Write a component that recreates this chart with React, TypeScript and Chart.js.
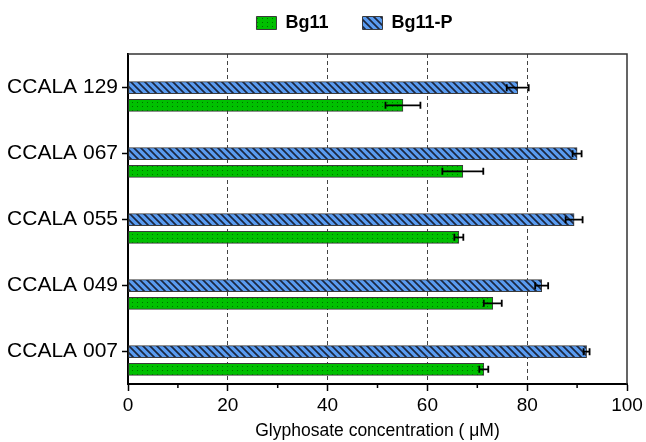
import React, { useEffect, useRef } from 'react';
import { Chart, registerables } from 'chart.js';

Chart.register(...registerables);

// ---- data ----
const strains = ['CCALA 129', 'CCALA 067', 'CCALA 055', 'CCALA 049', 'CCALA 007'];
const seriesNames = ['Bg11', 'Bg11-P'];
const bg11 = [55.1, 67.1, 66.3, 73.1, 71.3];
const bg11Err = [3.5, 4.1, 0.9, 1.8, 0.9];
const bg11P = [78.1, 90.0, 89.4, 82.9, 91.9];
const bg11PErr = [2.2, 0.9, 1.7, 1.3, 0.6];
const xMajorTicks = [0, 20, 40, 60, 80, 100];
const xMinorTicks = [10, 30, 50, 70, 90];
const xTitle = 'Glyphosate concentration ( μM)';

// ---- styling constants ----
const FONT = 'Liberation Sans';
const ROW_OFFSET = 0.268; // second bar of each pair sits below the tick
const LEGEND_SHIFT = 41;
const BLUE = '#5a9cf0';
const STRIPE = '#1b2740';
const GREEN = '#00c000';
const DOT = '#006e00';
const EDGE = '#3a3a3a';

function makeStripePattern(ctx: CanvasRenderingContext2D) {
  const c = document.createElement('canvas');
  const s = 7;
  c.width = s;
  c.height = s;
  const g = c.getContext('2d')!;
  g.fillStyle = BLUE;
  g.fillRect(0, 0, s, s);
  g.strokeStyle = STRIPE;
  g.lineWidth = 1.7;
  g.beginPath();
  for (let k = -1; k <= 1; k++) {
    g.moveTo(-2, -2 + s * k);
    g.lineTo(s + 2, s + 2 + s * k);
  }
  g.stroke();
  return ctx.createPattern(c, 'repeat')!;
}

function makeDotPattern(ctx: CanvasRenderingContext2D) {
  const c = document.createElement('canvas');
  c.width = 5;
  c.height = 4;
  const g = c.getContext('2d')!;
  g.fillStyle = GREEN;
  g.fillRect(0, 0, 5, 4);
  g.fillStyle = DOT;
  g.fillRect(2, 2, 1, 1);
  return ctx.createPattern(c, 'repeat')!;
}

const errorBarPlugin = {
  id: 'errorBars',
  afterDatasetsDraw(chart: any) {
    const ctx = chart.ctx;
    const xs = chart.scales.x;
    chart.data.datasets.forEach((ds: any, di: number) => {
      const meta = chart.getDatasetMeta(di);
      meta.data.forEach((el: any, i: number) => {
        const v = ds.data[i].x;
        const e = ds.errors[i];
        const x1 = xs.getPixelForValue(v - e);
        const x2 = xs.getPixelForValue(v + e);
        const y = el.y;
        ctx.save();
        ctx.strokeStyle = '#000';
        ctx.lineWidth = 1.8;
        ctx.beginPath();
        ctx.moveTo(x1, y);
        ctx.lineTo(x2, y);
        ctx.moveTo(x1, y - 3.5);
        ctx.lineTo(x1, y + 3.5);
        ctx.moveTo(x2, y - 3.5);
        ctx.lineTo(x2, y + 3.5);
        ctx.stroke();
        ctx.restore();
      });
    });
  },
};

const framePlugin = {
  id: 'frameAndMinor',
  afterLayout(chart: any) {
    if (chart.legend) {
      chart.legend.left += LEGEND_SHIFT;
      chart.legend.right += LEGEND_SHIFT;
    }
  },
  afterDraw(chart: any) {
    const ctx = chart.ctx;
    const { left, right, top, bottom } = chart.chartArea;
    const xs = chart.scales.x;
    ctx.save();
    ctx.strokeStyle = '#333';
    ctx.lineWidth = 1.5;
    ctx.beginPath();
    ctx.moveTo(left, top);
    ctx.lineTo(right, top);
    ctx.lineTo(right, bottom);
    ctx.stroke();
    ctx.strokeStyle = '#000';
    ctx.lineWidth = 1.5;
    ctx.beginPath();
    xMinorTicks.forEach((v) => {
      const x = xs.getPixelForValue(v);
      ctx.moveTo(x, bottom);
      ctx.lineTo(x, bottom + 4);
    });
    ctx.stroke();
    ctx.restore();
  },
};

export default function App() {
  const ref = useRef<HTMLCanvasElement>(null);

  useEffect(() => {
    const canvas = ref.current!;
    const ctx = canvas.getContext('2d')!;
    Chart.defaults.font.family = FONT;
    Chart.defaults.color = '#000';
    const stripes = makeStripePattern(ctx);
    const dots = makeDotPattern(ctx);

    const barCommon = {
      borderColor: EDGE,
      borderWidth: 1,
      borderSkipped: false,
      grouped: false,
      maxBarThickness: 12,
      categoryPercentage: 1,
      barPercentage: 1,
    };

    const chart = new Chart(ctx, {
      type: 'bar',
      data: {
        datasets: [
          {
            label: seriesNames[0],
            data: bg11.map((v, i) => ({ x: v, y: i + ROW_OFFSET })),
            errors: bg11Err,
            backgroundColor: dots,
            ...barCommon,
          } as any,
          {
            label: seriesNames[1],
            data: bg11P.map((v, i) => ({ x: v, y: i })),
            errors: bg11PErr,
            backgroundColor: stripes,
            ...barCommon,
          } as any,
        ],
      },
      options: {
        indexAxis: 'y',
        responsive: false,
        animation: false,
        layout: { padding: { left: 0, right: 19, top: -20, bottom: 0 } },
        plugins: {
          legend: {
            position: 'top',
            labels: {
              boxWidth: 20,
              boxHeight: 13,
              padding: 34,
              color: '#000',
              font: { family: FONT, size: 18, weight: 'bold' },
            },
          },
          title: {
            display: true,
            text: '',
            weight: 500,
            padding: 0,
            font: { size: 10, lineHeight: 1.2 },
          } as any,
          tooltip: { enabled: false },
        },
        scales: {
          x: {
            type: 'linear',
            min: 0,
            max: 100,
            afterBuildTicks: (s: any) => {
              s.ticks = xMajorTicks.map((v) => ({ value: v }));
            },
            afterFit: (s: any) => {
              s.height = 58;
            },
            ticks: {
              autoSkip: false,
              padding: 3,
              color: '#000',
              font: { family: FONT, size: 19 },
            },
            grid: {
              color: (c: any) =>
                c.tick && [20, 40, 60, 80].includes(c.tick.value) ? '#444' : 'rgba(0,0,0,0)',
              lineWidth: 1,
              tickColor: '#000',
              tickWidth: 1.5,
              tickLength: 7,
            },
            border: { display: true, color: '#000', width: 2, dash: [4, 3] },
            title: {
              display: true,
              text: xTitle,
              color: '#000',
              font: { family: FONT, size: 17.5 },
              padding: { top: 4, bottom: 0 },
            },
          },
          y: {
            type: 'linear',
            reverse: true,
            offset: false,
            min: -0.51,
            max: 4.49,
            afterBuildTicks: (s: any) => {
              s.ticks = strains.map((_, i) => ({ value: i }));
            },
            afterFit: (s: any) => {
              s.width = 128;
            },
            ticks: {
              autoSkip: false,
              padding: 4,
              color: '#000',
              font: { family: FONT, size: 21 },
              callback: (v: any) => strains[v as number] ?? '',
            },
            grid: {
              offset: false,
              drawOnChartArea: false,
              color: '#000',
              tickColor: '#000',
              tickWidth: 1.5,
              tickLength: 6,
            },
            border: { display: true, color: '#000', width: 2 },
          },
        },
      },
      plugins: [errorBarPlugin, framePlugin],
    } as any);

    return () => chart.destroy();
  }, []);

  return (
    <div style={{ position: 'absolute', left: 0, top: 0, width: 646, height: 442 }}>
      <canvas ref={ref} width={646} height={442} />
    </div>
  );
}
